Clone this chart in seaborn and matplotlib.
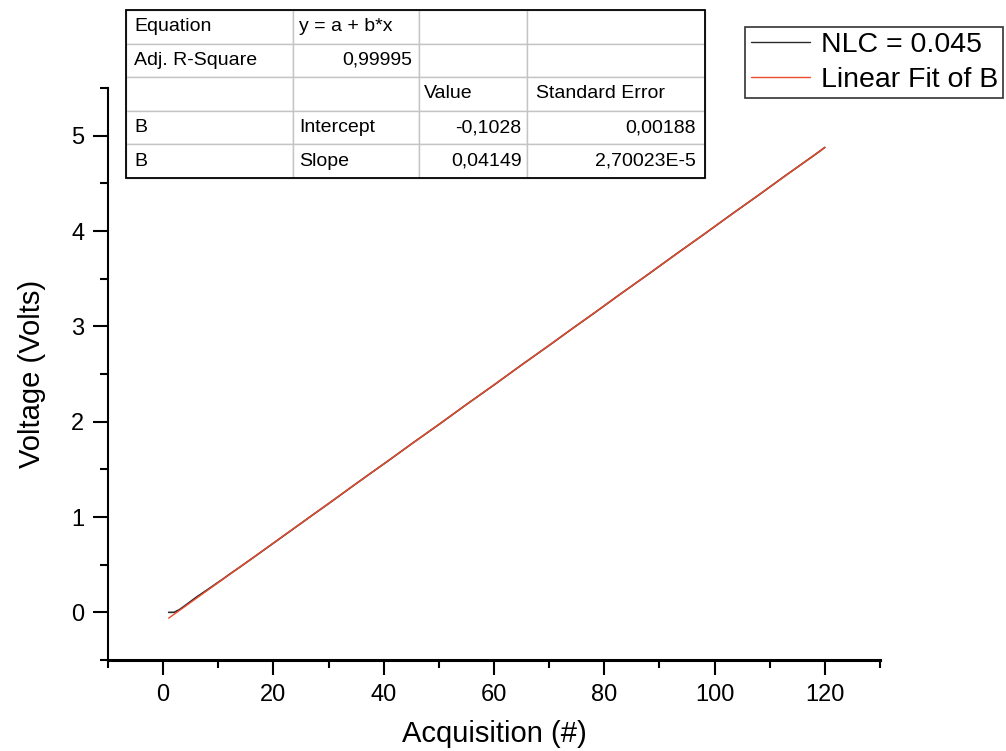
import numpy as np
import pandas as pd
import matplotlib
matplotlib.use("Agg")
import matplotlib.pyplot as plt
import seaborn as sns
from matplotlib.lines import Line2D
from matplotlib.patches import Rectangle

# ---------------- data ----------------
acquisition = list(range(1, 121))
voltage = [
    0.000, 0.000, 0.030, 0.072, 0.115, 0.158, 0.197, 0.236, 0.276, 0.316,
    0.356, 0.398, 0.438, 0.478, 0.519, 0.560, 0.601, 0.643, 0.684, 0.726,
    0.767, 0.809, 0.850, 0.892, 0.933, 0.975, 1.017, 1.058, 1.099, 1.140,
    1.182, 1.224, 1.266, 1.308, 1.350, 1.391, 1.433, 1.474, 1.515, 1.556,
    1.597, 1.639, 1.681, 1.723, 1.765, 1.806, 1.847, 1.888, 1.929, 1.970,
    2.012, 2.054, 2.096, 2.138, 2.180, 2.221, 2.262, 2.303, 2.344, 2.385,
    2.427, 2.469, 2.511, 2.553, 2.595, 2.636, 2.677, 2.718, 2.759, 2.800,
    2.842, 2.884, 2.926, 2.968, 3.009, 3.050, 3.091, 3.132, 3.174, 3.216,
    3.258, 3.300, 3.342, 3.383, 3.424, 3.465, 3.506, 3.547, 3.589, 3.631,
    3.673, 3.715, 3.757, 3.798, 3.839, 3.880, 3.921, 3.962, 4.004, 4.046,
    4.088, 4.130, 4.172, 4.213, 4.254, 4.295, 4.336, 4.377, 4.419, 4.461,
    4.503, 4.545, 4.587, 4.628, 4.669, 4.710, 4.751, 4.792, 4.834, 4.877,
]
fit_intercept = -0.1028
fit_slope = 0.04149
series_names = ["NLC = 0.045", "Linear Fit of B"]

table_rows = [
    ["Equation", "y = a + b*x", "", ""],
    ["Adj. R-Square", "0,99995", "", ""],
    ["", "", "Value", "Standard Error"],
    ["B", "Intercept", "-0,1028", "0,00188"],
    ["B", "Slope", "0,04149", "2,70023E-5"],
]
table_align = [
    ["left", "left", "left", "left"],
    ["left", "right", "left", "left"],
    ["left", "left", "left", "left"],
    ["left", "left", "right", "right"],
    ["left", "left", "right", "right"],
]

x_label = "Acquisition (#)"
y_label = "Voltage (Volts)"
x_ticks = [0, 20, 40, 60, 80, 100, 120]
y_ticks = [0, 1, 2, 3, 4, 5]

# ---------------- style ----------------
sns.set_theme(style="ticks")
plt.rcParams["font.family"] = ["Liberation Sans", "DejaVu Sans"]
plt.rcParams["text.color"] = "black"
plt.rcParams["axes.labelcolor"] = "black"
plt.rcParams["xtick.color"] = "black"
plt.rcParams["ytick.color"] = "black"

fig = plt.figure(figsize=(10.06, 7.51), dpi=100)
ax = fig.add_axes([108 / 1006, 1 - 660 / 751, (880 - 108) / 1006, (660 - 88) / 751])

df = pd.DataFrame({"x": acquisition, "y": voltage})
fit_x = np.array([acquisition[0], acquisition[-1]], dtype=float)
fit_df = pd.DataFrame({"x": fit_x, "y": fit_intercept + fit_slope * fit_x})

data_color = "#2b2b2b"
fit_color = "#ee4b2b"
sns.lineplot(data=df, x="x", y="y", ax=ax, color=data_color, lw=1.2, zorder=2)
sns.lineplot(data=fit_df, x="x", y="y", ax=ax, color=fit_color, lw=1.0, zorder=3)

ax.set_xlim(-10, 130)
ax.set_ylim(-0.5, 5.5)
ax.set_xticks(x_ticks)
ax.set_yticks(y_ticks)
ax.set_xticks(np.arange(-10, 131, 10), minor=True)
ax.set_yticks(np.arange(-0.5, 5.51, 0.5), minor=True)
ax.tick_params(axis="both", which="major", length=11, width=1.5, labelsize=17,
               colors="black", labelcolor="black", pad=6)
ax.tick_params(axis="both", which="minor", length=6, width=1.5, colors="black")
ax.set_xlabel(x_label, fontsize=21, labelpad=10, color="black")
ax.set_ylabel(y_label, fontsize=21, labelpad=18, color="black")
for s in ["top", "right"]:
    ax.spines[s].set_visible(False)
ax.spines["left"].set_linewidth(1.5)
ax.spines["bottom"].set_linewidth(2.2)
ax.spines["left"].set_color("black")
ax.spines["bottom"].set_color("black")

# legend
handles = [Line2D([], [], color=data_color, lw=1.0), Line2D([], [], color=fit_color, lw=1.0)]
leg = fig.legend(handles, series_names, loc="upper right",
                 bbox_to_anchor=(1003 / 1006, 1 - 27 / 751), bbox_transform=fig.transFigure,
                 fontsize=20.5, frameon=True, fancybox=False, framealpha=1,
                 borderaxespad=0, handlelength=2.1, handletextpad=0.36,
                 borderpad=0.18, labelspacing=0.3, labelcolor="black")
leg.get_frame().set_edgecolor("#333333")
leg.get_frame().set_linewidth(1.2)

# table
tax = fig.add_axes([126 / 1006, 1 - 178 / 751, 579 / 1006, 168 / 751])
tax.axis("off")
col_w = [167, 126, 108, 178]
col_frac = [c / sum(col_w) for c in col_w]
tbl = tax.table(cellText=table_rows, colWidths=col_frac, bbox=[0, 0, 1, 1])
tbl.auto_set_font_size(False)
for (r, c), cell in tbl.get_celld().items():
    cell.set_edgecolor("#c4c4c4")
    cell.set_linewidth(1.0)
    cell.set_facecolor("white")
    txt = cell.get_text()
    txt.set_fontsize(14)
    txt.set_color("black")
    txt.set_fontfamily(["Liberation Sans", "DejaVu Sans"])
    al = table_align[r][c]
    cell._loc = al
    txt.set_horizontalalignment(al)
    cell.PAD = 0.05
tax.add_patch(Rectangle((0, 0), 1, 1, transform=tax.transAxes, fill=False,
                        edgecolor="black", lw=1.3, zorder=10, clip_on=False))

fig.savefig("out.png", dpi=100)
